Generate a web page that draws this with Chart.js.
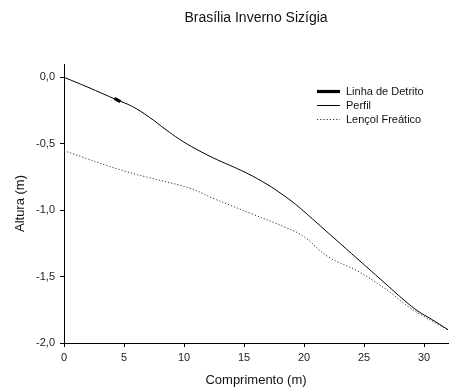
<!DOCTYPE html>
<html>
<head>
<meta charset="utf-8">
<script src="https://cdn.jsdelivr.net/npm/chart.js@4/dist/chart.umd.min.js"></script>
<style>
  html, body { margin: 0; padding: 0; background: #fff; }
  #wrap { width: 450px; height: 388px; }
</style>
</head>
<body>
<div id="wrap"><canvas id="c" width="450" height="388"></canvas></div>
<script>
// Beach profile – Brasília, winter spring tide
const seriesNames = ['Linha de Detrito', 'Perfil', 'Lençol Freático'];

const detritoX = [4.2, 4.7];
const detritoY = [-0.158, -0.183];

const perfilX = [0, 2, 4.33, 5.7, 7.1, 8.5, 9.6, 10.6, 12.4, 15.2, 17.0, 18.0, 19.0, 20.0, 21.0, 22.5, 24.5, 26.5, 28.5, 29.5, 30.6, 32];
const perfilY = [0, -0.075, -0.167, -0.22, -0.30, -0.395, -0.465, -0.52, -0.605, -0.72, -0.81, -0.87, -0.935, -1.01, -1.09, -1.21, -1.37, -1.53, -1.69, -1.76, -1.82, -1.90];

const lencolX = [0, 5.2, 10.5, 12.4, 15.7, 18.6, 20.0, 22.0, 24.5, 26.9, 28.6, 30.0, 32];
const lencolY = [-0.553, -0.71, -0.835, -0.91, -1.03, -1.135, -1.20, -1.35, -1.46, -1.60, -1.72, -1.80, -1.90];

const xTicks = [0, 5, 10, 15, 20, 25, 30];
const yTicks = [-2.0, -1.5, -1.0, -0.5, 0.0];

const toPoints = (xs, ys) => xs.map((x, i) => ({ x: x, y: ys[i] }));
const FONT = '"Liberation Sans", Arial, sans-serif';

// Legend drawn in the upper right of the plot
const legendPlugin = {
  id: 'cornerLegend',
  afterDraw(chart) {
    const ctx = chart.ctx;
    const x0 = 317, x1 = 340, tx = 346;
    const rows = [91.5, 105.5, 119.5];
    ctx.save();
    ctx.font = '11px ' + FONT;
    ctx.textBaseline = 'middle';
    ctx.textAlign = 'left';
    chart.data.datasets.forEach((ds, i) => {
      const y = rows[i];
      ctx.strokeStyle = ds.borderColor;
      ctx.lineWidth = ds.borderWidth;
      ctx.setLineDash(ds.borderDash || []);
      ctx.beginPath();
      ctx.moveTo(x0, y);
      ctx.lineTo(x1, y);
      ctx.stroke();
      ctx.setLineDash([]);
      ctx.fillStyle = '#111';
      ctx.fillText(ds.label, tx, y + 0.5);
    });
    ctx.restore();
  }
};

new Chart(document.getElementById('c'), {
  type: 'line',
  data: {
    datasets: [
      {
        label: seriesNames[0],
        data: toPoints(detritoX, detritoY),
        borderColor: '#000',
        borderWidth: 3.2,
        pointRadius: 0,
        fill: false
      },
      {
        label: seriesNames[1],
        data: toPoints(perfilX, perfilY),
        borderColor: '#000',
        borderWidth: 1,
        pointRadius: 0,
        tension: 0.4,
        fill: false
      },
      {
        label: seriesNames[2],
        data: toPoints(lencolX, lencolY),
        borderColor: '#333',
        borderWidth: 1,
        borderDash: [1.2, 2],
        pointRadius: 0,
        tension: 0.4,
        fill: false
      }
    ]
  },
  options: {
    responsive: false,
    animation: false,
    layout: { padding: { left: 0, right: 2, top: 0, bottom: 0 } },
    plugins: {
      legend: { display: false },
      tooltip: { enabled: false },
      title: {
        display: true,
        fullSize: false,
        text: 'Brasília Inverno Sizígia',
        color: '#111',
        font: { family: FONT, size: 14, weight: 'normal' },
        padding: { top: 10, bottom: 37.2 }
      }
    },
    scales: {
      x: {
        type: 'linear',
        min: 0,
        max: 32,
        afterFit(scale) { scale.height = 45; },
        afterBuildTicks(scale) { scale.ticks = xTicks.map(v => ({ value: v })); },
        grid: { display: true, drawOnChartArea: false, drawTicks: true, tickLength: 4, tickColor: '#000', tickWidth: 1 },
        border: { display: true, color: '#000', width: 1 },
        ticks: {
          color: '#222',
          font: { family: FONT, size: 11 },
          padding: 4,
          maxRotation: 0,
          callback: v => String(v)
        },
        title: {
          display: true,
          text: 'Comprimento (m)',
          color: '#111',
          font: { family: FONT, size: 13 },
          padding: { top: 0, bottom: 0 }
        }
      },
      y: {
        type: 'linear',
        min: -2.0,
        max: 0.1,
        afterFit(scale) { scale.width = 64; },
        afterBuildTicks(scale) { scale.ticks = yTicks.map(v => ({ value: v })); },
        grid: { display: true, drawOnChartArea: false, drawTicks: true, tickLength: 4, tickColor: '#000', tickWidth: 1 },
        border: { display: true, color: '#000', width: 1 },
        ticks: {
          color: '#222',
          font: { family: FONT, size: 11 },
          padding: 5,
          callback: v => (Math.abs(v) < 1e-9 ? 0 : v).toFixed(1).replace('.', ',')
        },
        title: {
          display: true,
          text: 'Altura (m)',
          color: '#111',
          font: { family: FONT, size: 13 },
          padding: { top: 13, bottom: 0 }
        }
      }
    }
  },
  plugins: [legendPlugin]
});
</script>
</body>
</html>
